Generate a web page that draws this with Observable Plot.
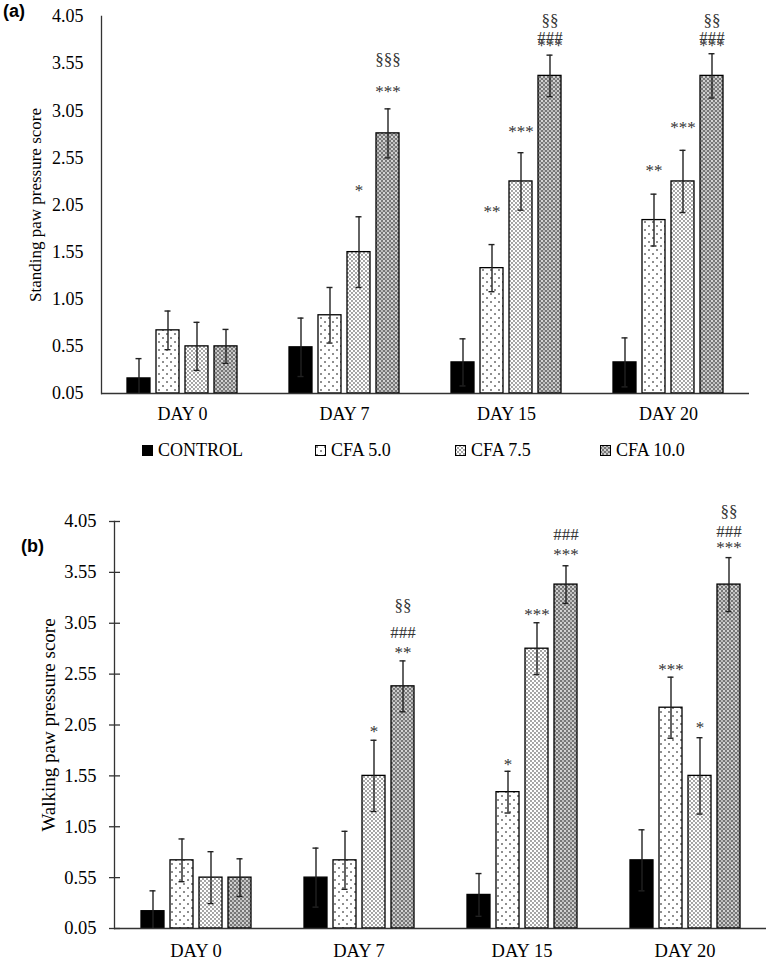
<!DOCTYPE html>
<html><head><meta charset="utf-8">
<script src="https://cdn.jsdelivr.net/npm/d3@7"></script>
<script src="https://cdn.jsdelivr.net/npm/@observablehq/plot@0.6"></script>
<style>
body{margin:0;background:#fff;}
#wrap{position:relative;width:770px;height:960px;font-family:"Liberation Serif","Times New Roman",serif;color:#000;}
.tag{position:absolute;font-family:"Liberation Sans",Arial,sans-serif;font-weight:bold;font-size:18px;}
#legend{position:absolute;top:439px;left:0;width:770px;height:24px;font-size:18px;}
.item{position:absolute;top:0;display:flex;align-items:center;height:22px;white-space:nowrap;}
.item svg{margin-right:5px;}
</style></head>
<body>
<svg width="0" height="0" style="position:absolute">
  <defs>
    <pattern id="pat5" patternUnits="userSpaceOnUse" width="8" height="8">
      <rect width="8" height="8" fill="#fff"/>
      <circle cx="2" cy="2" r="0.8" fill="#000"/>
      <circle cx="6" cy="6" r="0.8" fill="#000"/>
    </pattern>
    <pattern id="pat75" patternUnits="userSpaceOnUse" width="4" height="4">
      <rect width="4" height="4" fill="#fff"/>
      <circle cx="1" cy="1" r="0.65" fill="#000"/>
      <circle cx="3" cy="3" r="0.65" fill="#000"/>
    </pattern>
    <pattern id="pat10" patternUnits="userSpaceOnUse" width="4" height="4">
      <rect width="4" height="4" fill="#777"/>
      <circle cx="1" cy="1" r="0.9" fill="#fff"/>
      <circle cx="3" cy="3" r="0.9" fill="#ddd"/>
    </pattern>
  </defs>
</svg>
<div id="wrap">
  <div id="pa" style="position:absolute;top:0;left:0"></div>
  <div id="legend"></div>
  <div id="pb" style="position:absolute;top:470px;left:0"></div>
  <div class="tag" style="left:3px;top:1px">(a)</div>
  <div class="tag" style="left:21px;top:536px">(b)</div>
</div>
<script>
// ---------- data ----------
const days = ["DAY 0", "DAY 7", "DAY 15", "DAY 20"];
const series = ["CONTROL", "CFA 5.0", "CFA 7.5", "CFA 10.0"];
const yTicks = [0.05, 0.55, 1.05, 1.55, 2.05, 2.55, 3.05, 3.55, 4.05];

// (a) Standing paw pressure score
const standControl = [0.21, 0.54, 0.38, 0.38];
const standCfa5    = [0.72, 0.88, 1.38, 1.89];
const standCfa75   = [0.55, 1.55, 2.30, 2.30];
const standCfa10   = [0.55, 2.81, 3.42, 3.42];
const standControlSd = [0.21, 0.31, 0.25, 0.26];
const standCfa5Sd    = [0.205, 0.295, 0.25, 0.275];
const standCfa75Sd   = [0.255, 0.375, 0.305, 0.33];
const standCfa10Sd   = [0.18, 0.26, 0.22, 0.235];

// (b) Walking paw pressure score
const walkControl = [0.22, 0.55, 0.38, 0.72];
const walkCfa5    = [0.72, 0.72, 1.39, 2.22];
const walkCfa75   = [0.55, 1.55, 2.80, 1.55];
const walkCfa10   = [0.55, 2.43, 3.43, 3.43];
const walkControlSd = [0.20, 0.29, 0.21, 0.30];
const walkCfa5Sd    = [0.21, 0.285, 0.205, 0.30];
const walkCfa75Sd   = [0.255, 0.35, 0.255, 0.375];
const walkCfa10Sd   = [0.185, 0.25, 0.185, 0.265];

// significance labels (a)
const annADay    = ["DAY 7","DAY 7","DAY 7","DAY 15","DAY 15","DAY 15","DAY 15","DAY 15","DAY 20","DAY 20","DAY 20","DAY 20","DAY 20"];
const annASeries = ["CFA 7.5","CFA 10.0","CFA 10.0","CFA 5.0","CFA 7.5","CFA 10.0","CFA 10.0","CFA 10.0","CFA 5.0","CFA 7.5","CFA 10.0","CFA 10.0","CFA 10.0"];
const annAText   = ["*","***","§§§","**","***","***","###","§§","**","***","***","###","§§"];
const annAY      = [2.145, 3.196, 3.537, 1.923, 2.77, 3.684, 3.769, 3.95, 2.36, 2.81, 3.684, 3.769, 3.95];

// significance labels (b)
const annBDay    = ["DAY 7","DAY 7","DAY 7","DAY 7","DAY 15","DAY 15","DAY 15","DAY 15","DAY 20","DAY 20","DAY 20","DAY 20","DAY 20"];
const annBSeries = ["CFA 7.5","CFA 10.0","CFA 10.0","CFA 10.0","CFA 5.0","CFA 7.5","CFA 10.0","CFA 10.0","CFA 5.0","CFA 7.5","CFA 10.0","CFA 10.0","CFA 10.0"];
const annBText   = ["*","**","###","§§","*","***","***","###","***","*","***","###","§§"];
const annBY      = [1.93, 2.71, 2.905, 3.17, 1.61, 3.08, 3.67, 3.87, 2.54, 1.97, 3.74, 3.90, 4.09];

const fills = {"CONTROL": "#000", "CFA 5.0": "url(#pat5)", "CFA 7.5": "url(#pat75)", "CFA 10.0": "url(#pat10)"};
const yMin = 0.05;

function buildRows(vals, sds) {
  const rows = [];
  days.forEach((day, i) => series.forEach((s, j) => {
    const v = vals[j][i], e = sds[j][i];
    rows.push({day, series: s, value: v, lo: Math.max(yMin, v - e), hi: v + e, showLo: v - e > yMin});
  }));
  return rows;
}
function buildAnn(d, s, t, y) {
  return d.map((day, i) => ({day, series: s[i], text: t[i], y: y[i]}));
}

function panel(rows, ann, cfg) {
  const barMarks = series.map(s => Plot.barY(rows.filter(r => r.series === s), {
    fx: "day", x: "series", y1: yMin, y2: "value",
    fill: fills[s], stroke: "#000", strokeWidth: 1.3
  }));
  const yAxisMarks = cfg.ticks
    ? [Plot.axisY({ticks: yTicks, tickSize: 11, dx: 6, tickFormat: () => "", stroke: "#333", strokeWidth: 1.3, label: null})]
    : [];
  return Plot.plot({
    width: 770, height: cfg.height,
    marginTop: cfg.mt, marginBottom: cfg.mb, marginLeft: cfg.ml, marginRight: cfg.mr,
    style: {fontFamily: "'Liberation Serif', 'Times New Roman', serif", fontSize: cfg.fs, color: "#000", background: "#fff"},
    fx: {domain: days, padding: 0, label: null},
    x: {domain: series, paddingInner: 0.22, paddingOuter: 0.86, axis: null},
    y: {domain: [yMin, 4.05], label: null},
    marks: [
      Plot.axisFx({anchor: "bottom", tickSize: 0, tickPadding: cfg.fxPad, label: null, fontSize: cfg.fs}),
      Plot.axisY({ticks: yTicks, tickSize: 0, tickPadding: 18, tickFormat: d3.format(".2f"), label: null, fontSize: cfg.fs}),
      Plot.axisY({ticks: [], label: cfg.label, labelAnchor: "center", labelOffset: 73, labelArrow: "none", fontSize: cfg.lfs}),
      ...yAxisMarks,
      ...barMarks,
      Plot.ruleX(rows, {fx: "day", x: "series", y1: "lo", y2: "hi", stroke: "#222", strokeWidth: 1.4}),
      Plot.tickY(rows, {fx: "day", x: "series", y: "hi", stroke: "#222", strokeWidth: 1.4, insetLeft: 8.5, insetRight: 8.5}),
      Plot.tickY(rows.filter(r => r.showLo), {fx: "day", x: "series", y: "lo", stroke: "#222", strokeWidth: 1.4, insetLeft: 8.5, insetRight: 8.5}),
      Plot.text(ann, {fx: "day", x: "series", y: "y", text: "text", lineAnchor: "bottom", fontSize: 17, fill: "#333"}),
      Plot.frame({anchor: "left", facetAnchor: "left", stroke: "#333", strokeWidth: 1.3}),
      Plot.ruleY([yMin], {stroke: "#333", strokeWidth: 1.3})
    ]
  });
}

const rowsA = buildRows([standControl, standCfa5, standCfa75, standCfa10], [standControlSd, standCfa5Sd, standCfa75Sd, standCfa10Sd]);
const rowsB = buildRows([walkControl, walkCfa5, walkCfa75, walkCfa10], [walkControlSd, walkCfa5Sd, walkCfa75Sd, walkCfa10Sd]);
const annA = buildAnn(annADay, annASeries, annAText, annAY);
const annB = buildAnn(annBDay, annBSeries, annBText, annBY);

document.getElementById("pa").append(panel(rowsA, annA, {
  height: 440, mt: 16, mb: 47, ml: 100, mr: 20, fs: "18px", lfs: "17px", fxPad: 14,
  label: "Standing paw pressure score", ticks: false
}));
document.getElementById("pb").append(panel(rowsB, annB, {
  height: 490, mt: 51, mb: 32, ml: 112, mr: 3, fs: "18.5px", lfs: "19px", fxPad: 15,
  label: "Walking paw pressure score", ticks: true
}));

// legend (between the panels)
const legendX = [142, 315, 455, 600];
const legend = d3.select("#legend");
series.forEach((s, i) => {
  const item = legend.append("div").attr("class", "item").style("left", legendX[i] + "px");
  const sw = item.append("svg").attr("width", 11).attr("height", 11);
  sw.append("rect").attr("x", 0.5).attr("y", 0.5).attr("width", 10).attr("height", 10)
    .attr("fill", fills[s]).attr("stroke", "#000").attr("stroke-width", 1);
  item.append("span").text(s);
});
</script>
</body></html>
